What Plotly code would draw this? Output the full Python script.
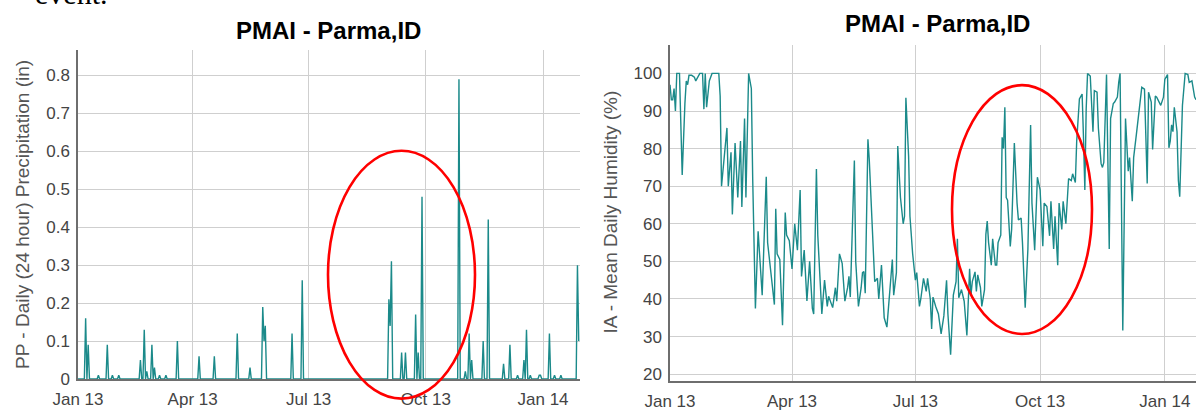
import pandas as pd
import plotly.graph_objects as go

# ---------------- data ----------------
START = "2013-01-01"
N_DAYS_PRECIP = 394

# precipitation events: day offset from START, value (in)
rain_day = [6, 8, 16, 23, 27, 32, 49, 52, 54, 58, 60, 64, 69, 78, 95, 107, 125, 135,
            145, 146, 147, 168, 176, 244, 245, 246, 254, 257, 265, 267, 270, 299,
            304, 307, 309, 318, 322, 334, 339, 345, 350, 352, 355, 362, 363, 370,
            374, 379, 392, 393]
rain_val = [0.16, 0.09, 0.01, 0.09, 0.01, 0.01, 0.05, 0.13, 0.02, 0.09, 0.03, 0.01,
            0.01, 0.10, 0.06, 0.06, 0.12, 0.03, 0.19, 0.10, 0.14, 0.12, 0.26, 0.21,
            0.14, 0.31, 0.07, 0.07, 0.17, 0.07, 0.48, 0.79, 0.02, 0.12, 0.05, 0.10,
            0.42, 0.04, 0.09, 0.01, 0.05, 0.13, 0.01, 0.01, 0.01, 0.12, 0.01, 0.01,
            0.30, 0.10]

# mean daily humidity: day offset from START, value (%)
hum_day = [0, 1, 2, 3, 4, 5, 7, 9, 11, 12, 13, 14, 16, 18, 19, 21, 22, 24, 25, 26,
           27, 29, 31, 36, 37, 38, 41, 42, 43, 45, 46, 48, 50, 52, 53, 55, 56, 58,
           60, 61, 63, 65, 68, 70, 71, 72, 75, 77, 78, 79, 81, 83, 85, 86, 88, 89,
           90, 92, 93, 94, 96, 97, 99, 101, 103, 105, 106, 108, 109, 111, 112, 114,
           116, 117, 120, 122, 123, 125, 127, 129, 131, 132, 133, 136, 137, 139, 141,
           142, 143, 144, 146, 147, 149, 151, 153, 154, 156, 158, 160, 161, 162, 164,
           165, 167, 168, 170, 172, 173, 174, 176, 177, 179, 181, 182, 184, 185, 187,
           189, 190, 192, 193, 194, 196, 198, 200, 202, 204, 205, 207, 209, 211, 212,
           213, 215, 217, 219, 221, 222, 223, 225, 226, 227, 229, 230, 232, 233, 234,
           235, 237, 238, 240, 241, 242, 244, 245, 246, 247, 248, 249, 251, 252, 254,
           256, 257, 259, 260, 262, 264, 266, 267, 269, 271, 273, 275, 276, 278, 280,
           281, 283, 284, 286, 287, 289, 290, 292, 293, 294, 296, 297, 299, 300, 302,
           304, 305, 306, 307, 308, 310, 311, 312, 313, 315, 316, 318, 319, 320, 322,
           323, 324, 325, 327, 328, 330, 331, 332, 334, 335, 336, 338, 339, 341, 342,
           344, 346, 348, 350, 352, 353, 355, 356, 358, 359, 361, 362, 364, 365, 367,
           368, 369, 370, 371, 372, 374, 375, 376, 378, 380, 382, 383, 385, 387, 388]
hum_val = [97, 93, 93, 96, 90, 100, 100, 73, 92, 98, 97, 99.5, 99.5, 99, 98, 99.5,
           100, 100, 90.5, 100, 91, 98, 100, 100, 94, 70, 82, 85.5, 70, 79, 62.5,
           81.5, 67, 82, 64.5, 88, 67, 100, 96, 72, 37.5, 58, 41, 64.5, 72.5, 55,
           44.5, 38.5, 64, 52, 50.5, 33, 63, 57, 55.5, 50.5, 48, 60, 57, 53, 69, 46,
           53, 39.5, 50, 37.5, 36, 74.6, 57, 41, 36, 45, 38, 40.7, 37.7, 43, 39.4, 52,
           49.5, 39.4, 43, 46, 40.5, 76.8, 50, 38, 43, 47, 47.3, 41.5, 82.5, 77, 60,
           44.6, 45.5, 40, 49, 35, 32.5, 37.7, 41, 50.5, 41, 47, 80.7, 67, 60, 62,
           93.5, 78, 62, 52, 45, 47, 38, 40, 45.5, 42, 45.5, 40, 32, 40.5, 38, 36,
           30.7, 35.5, 45, 36, 25.2, 41, 44.6, 56, 40.3, 42.5, 39.4, 30.3, 48, 41,
           44.6, 47.2, 42, 46.4, 43, 38, 42.5, 57.2, 60.7, 55, 49, 56, 49, 49, 55, 57,
           83, 80, 91, 67, 66.3, 54, 58.5, 81.5, 65.5, 61, 61.5, 55, 37.7, 53.3, 86.3,
           65.5, 53, 72.4, 69, 54, 65.5, 64.6, 56.8, 66, 53.3, 62, 49, 65.5, 58.5, 66,
           60, 66, 72, 71.5, 73.3, 71, 82, 93.2, 94.5, 83, 69, 90.6, 100, 99.3, 91.5,
           84.5, 95.4, 95, 85.4, 76, 75, 76.3, 99.7, 78.5, 53.3, 88, 92, 92.4, 93.7,
           97.6, 100, 31.6, 56.8, 88, 74, 77.6, 66, 77.6, 83.7, 89.3, 96.3, 95.8,
           70.7, 95, 92.4, 79.8, 94, 93.7, 92.4, 91.5, 93.7, 98.4, 99.7, 80.2, 82,
           86.3, 84.5, 91, 84.5, 71.5, 67.2, 91.5, 100, 99.7, 97.6, 98, 93.7, 93]

precip_y_ticks = [0, 0.1, 0.2, 0.3, 0.4, 0.5, 0.6, 0.7, 0.8]
hum_y_ticks = [20, 30, 40, 50, 60, 70, 80, 90, 100]

TITLE = "PMAI - Parma,ID"
PRECIP_LABEL = "PP - Daily (24 hour) Precipitation (in)"
HUM_LABEL = "IA - Mean Daily Humidity (%)"

# ---------------- build series ----------------
start = pd.Timestamp(START)
precip_dates = pd.date_range(start, periods=N_DAYS_PRECIP, freq="D")
precip = pd.Series(0.0, index=precip_dates)
for d, v in zip(rain_day, rain_val):
    precip.iloc[d] = v
hum_dates = [start + pd.Timedelta(days=d) for d in hum_day]

# ---------------- layout geometry (pixels) ----------------
W, H = 1196, 411
ML, MR, MT, MB = 78, 0, 45, 23
PW, PH = W - ML - MR, H - MT - MB


def px(x):
    return (x - ML) / PW


def py(y):
    return (H - MB - y) / PH


LINE = "#1b8a8a"
GRID = "#cfcfcf"
AXIS = "#6e6e6e"
TXT = "#444444"
FONT = "Liberation Sans, Arial, sans-serif"

fig = go.Figure()
fig.add_trace(go.Scatter(x=precip.index, y=precip.values, mode="lines",
                         line=dict(color=LINE, width=1.4), xaxis="x", yaxis="y",
                         showlegend=False))
fig.add_trace(go.Scatter(x=hum_dates, y=hum_val, mode="lines",
                         line=dict(color=LINE, width=1.4), xaxis="x2", yaxis="y2",
                         showlegend=False))

xcommon = dict(type="date", dtick="M3", tick0=START, tickformat="%b %y",
               showgrid=True, gridcolor=GRID, gridwidth=1, showline=True,
               linecolor=AXIS, linewidth=1.5, ticks="outside", ticklen=4,
               tickcolor="rgba(0,0,0,0)", tickfont=dict(size=17, color=TXT, family=FONT),
               zeroline=False)
ycommon = dict(showgrid=True, gridcolor=GRID, gridwidth=1, showline=True,
               linecolor=AXIS, linewidth=1.5, ticks="outside", ticklen=3,
               tickcolor="rgba(0,0,0,0)", tickfont=dict(size=17, color=TXT, family=FONT),
               zeroline=False)

fig.update_layout(
    width=W, height=H,
    margin=dict(l=ML, r=MR, t=MT, b=MB, pad=0),
    paper_bgcolor="white", plot_bgcolor="white",
    font=dict(family=FONT, color=TXT),
    xaxis=dict(xcommon, domain=[0, px(580)], anchor="y",
               range=[START, str((start + pd.Timedelta(days=394)).date())]),
    yaxis=dict(ycommon, domain=[py(386), py(50)], anchor="x",
               range=[0, 0.867], tickvals=precip_y_ticks,
               ticktext=[f"{v:g}" for v in precip_y_ticks]),
    xaxis2=dict(xcommon, domain=[px(670), 1], anchor="y2",
                range=[START, str((start + pd.Timedelta(days=388)).date())]),
    yaxis2=dict(ycommon, domain=[0, 1], anchor="x2",
                range=[18.18, 107.56], tickvals=hum_y_ticks),
    showlegend=False,
)

ann = [
    dict(text="<b>" + TITLE + "</b>", x=px(328), y=py(30), xref="paper", yref="paper",
         xanchor="center", yanchor="middle", showarrow=False,
         font=dict(size=24, color="black", family=FONT)),
    dict(text="<b>" + TITLE + "</b>", x=px(937), y=py(23), xref="paper", yref="paper",
         xanchor="center", yanchor="middle", showarrow=False,
         font=dict(size=24, color="black", family=FONT)),
    dict(text=PRECIP_LABEL, x=px(22.5), y=py(218), xref="paper", yref="paper",
         xanchor="center", yanchor="middle", textangle=-90, showarrow=False,
         font=dict(size=19, color="#555555", family=FONT)),
    dict(text=HUM_LABEL, x=px(611), y=py(216), xref="paper", yref="paper",
         xanchor="center", yanchor="middle", textangle=-90, showarrow=False,
         font=dict(size=19, color="#555555", family=FONT)),
    dict(text="event.", x=px(33), y=py(-8), xref="paper", yref="paper",
         xanchor="left", yanchor="middle", showarrow=False,
         font=dict(size=30, color="black", family="Liberation Serif, Times New Roman, serif")),
]
fig.update_layout(annotations=ann)

shapes = [
    dict(type="circle", xref="paper", yref="paper", x0=px(328), x1=px(475),
         y0=py(406), y1=py(153), line=dict(color="#ff0000", width=2.6)),
    dict(type="circle", xref="paper", yref="paper", x0=px(952), x1=px(1092),
         y0=py(340), y1=py(86), line=dict(color="#ff0000", width=2.6)),
]
fig.update_layout(shapes=shapes)

fig.write_html("out.html")
